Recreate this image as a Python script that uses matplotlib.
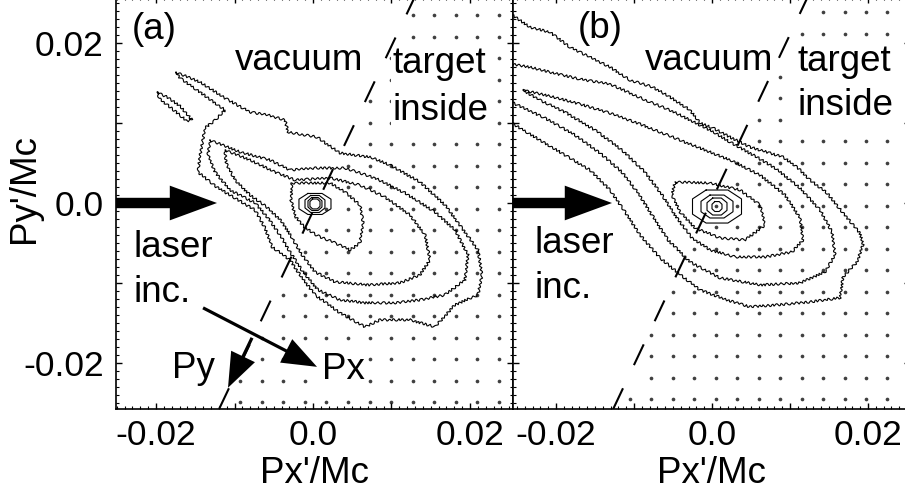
import numpy as np
import matplotlib.pyplot as plt
from matplotlib.ticker import MultipleLocator, FuncFormatter

plt.rcParams['font.family'] = ['Liberation Sans', 'DejaVu Sans']

# ---- contour lines, units of 1e-3 Mc, (Px', Py') ----
# panel (a)
a_outer = [(-17.45, 16.32), (-14.39, 15.08), (-11.21, 13.08), (-8.03, 11.34), (-5.73, 10.97),
           (-3.57, 10.34), (-3.18, 8.85), (0.51, 8.22), (3.44, 6.23), (7.26, 5.73), (9.81, 4.74),
           (13.63, 2.62), (16.82, -0.25), (18.98, -3.12), (21.02, -5.86), (21.53, -8.97),
           (21.02, -11.46), (18.09, -12.71), (15.54, -15.45), (12.36, -14.58), (8.54, -14.58),
           (6.62, -15.45), (3.44, -13.71), (0.25, -11.46), (-1.66, -8.97), (-2.93, -7.10),
           (-5.22, -5.48), (-6.11, -3.12), (-7.39, -0.87), (-10.19, 0.75), (-12.48, 2.12),
           (-14.65, 3.86), (-14.39, 5.98), (-13.76, 9.35), (-12.48, 10.34), (-11.21, 11.59),
           (-14.39, 13.83), (-16.94, 15.58)]
a_island = [(-19.87, 13.83), (-18.6, 13.21), (-16.94, 12.09), (-15.41, 10.34), (-16.05, 10.22),
            (-17.58, 11.46), (-19.49, 12.96)]
a_level2 = [(-13.12, 7.85), (-9.30, 6.36), (-5.48, 5.36), (-2.93, 4.11), (0.25, 4.36), (4.08, 4.36),
            (7.90, 3.12), (11.72, 1.25), (15.54, -1.12), (18.09, -3.36), (19.75, -6.48),
            (19.36, -9.60), (16.82, -11.46), (13.63, -12.09), (10.45, -12.46), (6.62, -12.46),
            (3.44, -12.09), (0.64, -10.84), (-1.27, -8.60), (-2.93, -6.11), (-4.20, -3.99),
            (-5.73, -1.87), (-7.39, 0.00), (-10.57, 1.62), (-12.48, 3.86), (-13.38, 5.98)]
a_level3 = [(-11.21, 6.60), (-8.03, 5.36), (-4.84, 3.86), (-2.29, 2.87), (2.17, 3.12), (5.99, 2.24),
            (9.17, 0.75), (12.36, -1.50), (14.27, -3.99), (14.90, -7.10), (13.63, -8.97),
            (11.08, -9.97), (6.88, -10.22), (2.80, -9.84), (0.25, -8.60), (-1.40, -6.48),
            (-2.68, -4.36), (-3.95, -2.37), (-5.73, -0.62), (-8.03, 1.00), (-9.94, 2.87),
            (-11.08, 4.98)]
a_level4 = [(-2.68, 2.49), (2.17, 2.49), (4.08, 1.37), (5.99, -0.25), (6.37, -2.37), (5.99, -4.98),
            (4.71, -5.86), (2.80, -4.98), (0.64, -4.11), (-1.02, -3.12), (-2.29, -1.62),
            (-2.80, 0.37)]
a_ring1 = [(-0.65, 1.19), (1.15, 1.19), (2.29, 0.48), (2.29, -0.72), (1.15, -1.43), (-0.65, -1.43),
           (-1.79, -0.72), (-1.79, 0.48)]
a_ring2 = [(-0.30, 0.94), (0.80, 0.94), (1.52, 0.38), (1.52, -0.62), (0.80, -1.18), (-0.30, -1.18),
           (-1.02, -0.62), (-1.02, 0.38)]
a_ring3 = [(-0.15, 0.69), (0.65, 0.69), (1.14, 0.26), (1.14, -0.50), (0.65, -0.93), (-0.15, -0.93),
           (-0.64, -0.50), (-0.64, 0.26)]
a_ring4 = [(-0.05, 0.50), (0.55, 0.50), (0.89, 0.18), (0.89, -0.42), (0.55, -0.74), (-0.05, -0.74),
           (-0.39, -0.42), (-0.39, 0.18)]

# panel (b): the two outer levels leave the frame on the left
b_outer = [(-26.54, 24.05), (-23.33, 21.93), (-20.77, 21.31), (-18.21, 19.44), (-15.64, 18.19),
           (-13.08, 16.95), (-10.51, 15.33), (-7.56, 14.45), (-5.38, 13.21), (-2.82, 11.59),
           (-1.54, 9.97), (0.13, 9.35), (2.31, 8.22), (4.87, 6.98), (7.44, 6.23), (9.10, 5.73),
           (10.90, 4.49), (12.56, 2.87), (14.74, 1.25), (16.79, -1.25), (18.97, -3.74),
           (19.36, -5.23), (18.59, -7.35), (16.79, -9.22), (16.41, -11.84), (12.56, -12.34),
           (8.33, -12.71), (4.87, -12.96), (1.92, -12.09), (-1.54, -10.84), (-3.72, -9.22),
           (-6.67, -6.85), (-9.23, -3.99), (-11.15, -1.12), (-13.08, 1.62), (-15.64, 4.11),
           (-18.85, 5.98), (-22.05, 7.85), (-26.54, 10.47)]
b_level2 = [(-26.54, 17.45), (-23.33, 16.95), (-20.77, 16.32), (-16.92, 15.45), (-13.08, 14.83),
            (-10.51, 13.71), (-7.95, 12.59), (-5.38, 11.59), (-2.82, 10.34), (-0.26, 9.10),
            (2.31, 7.60), (5.51, 5.86), (8.08, 4.36), (11.28, 1.87), (13.85, -0.87), (15.38, -3.61),
            (15.77, -6.48), (14.49, -8.60), (11.28, -9.97), (6.15, -10.22), (1.03, -9.35),
            (-2.82, -7.35), (-5.64, -4.61), (-7.69, -1.50), (-9.49, 1.25), (-11.54, 3.86),
            (-14.36, 6.23), (-17.56, 8.47), (-21.41, 10.59), (-26.54, 12.96)]
b_level3 = [(-24.23, 14.08), (-20.77, 13.33), (-16.92, 12.34), (-13.08, 11.21), (-9.23, 9.84),
            (-5.38, 8.35), (-1.54, 6.85), (2.31, 5.36), (6.15, 3.49), (9.36, 1.00), (11.28, -1.87),
            (11.67, -4.61), (10.26, -6.11), (6.79, -6.73), (2.95, -6.73), (-0.26, -5.86),
            (-2.56, -4.36), (-4.49, -1.87), (-6.41, 1.00), (-8.59, 3.86), (-11.54, 6.60),
            (-15.00, 9.10), (-18.85, 11.34), (-22.05, 12.83)]
b_level4 = [(-4.74, 2.62), (-0.26, 2.49), (3.59, 1.62), (6.15, -0.25), (6.79, -2.74), (4.23, -4.61),
            (1.03, -4.36), (-2.18, -3.12), (-4.10, -1.12), (-5.13, 1.00)]
b_ring1 = [(-0.76, 1.62), (2.04, 1.62), (3.78, 0.51), (3.78, -1.39), (2.04, -2.50), (-0.76, -2.50),
           (-2.50, -1.39), (-2.50, 0.51)]
b_ring2 = [(-0.26, 0.99), (1.54, 0.99), (2.69, 0.21), (2.69, -1.09), (1.54, -1.87), (-0.26, -1.87),
           (-1.41, -1.09), (-1.41, 0.21)]
b_ring3 = [(0.09, 0.62), (1.19, 0.62), (1.92, 0.04), (1.92, -0.92), (1.19, -1.50), (0.09, -1.50),
           (-0.64, -0.92), (-0.64, 0.04)]
b_ring4 = [(0.36, 0.18), (0.92, 0.18), (1.28, -0.16), (1.28, -0.72), (0.92, -1.06), (0.36, -1.06),
           (0.00, -0.72), (0.00, -0.16)]

closed_a = [a_outer, a_island, a_level2, a_level3, a_level4]
rings_a = [a_ring1, a_ring2, a_ring3, a_ring4]
open_a = []
closed_b = [b_level3, b_level4]
rings_b = [b_ring1, b_ring2, b_ring3, b_ring4]
open_b = [b_outer, b_level2]

# target surface: Px' = slope * Py' + offset
surface_slope = 0.485
surface_offset = {'a': 0.0005, 'b': -0.0002}

# dot pattern marking the target side
dot_step = (0.00275, 0.00268)
dot_origin = {'a': (-0.0093, -0.02484), 'b': (-0.01051, -0.02446)}

xlims = {'a': (-0.0251, 0.02548), 'b': (-0.02551, 0.02538)}
ylims = (-0.0257, 0.0257)

# texts (x, y, string) in data units
labels = {
    'a': [(-0.0231, 0.0216, '(a)', 'center'), (-0.00994, 0.01657, 'vacuum', 'baseline'),
          (-0.02293, -0.00673, 'laser', 'baseline'), (-0.02293, -0.01234, 'inc.', 'baseline')],
    'b': [(-0.01718, 0.0218, '(b)', 'center'), (-0.00859, 0.01657, 'vacuum', 'baseline'),
          (-0.02269, -0.00623, 'laser', 'baseline'), (-0.02269, -0.01184, 'inc.', 'baseline')],
}
boxed_labels = {
    'a': [(0.01019, 0.0162, 'target'), (0.01019, 0.01034, 'inside'),
          (-0.01796, -0.02181, 'Py'), (0.00115, -0.02193, 'Px')],
    'b': [(0.0109, 0.01645, 'target'), (0.0109, 0.01097, 'inside')],
}
laser_tip = {'a': -0.01223, 'b': -0.01282}

FS = 26.5
TICK_FS = 25.5

fig = plt.figure(figsize=(9.05, 4.95), dpi=100)
ax_a = fig.add_axes([116 / 905, 86 / 495, 397 / 905, 412 / 495])
ax_b = fig.add_axes([513 / 905, 86 / 495, 397 / 905, 412 / 495])


def tick_fmt(v, pos):
    r = int(round(v * 100))
    return {-2: '-0.02', 0: '0.0', 2: '0.02'}.get(r, '')


def draw_panel(ax, key, closed, rings, opened):
    ax.set_xlim(xlims[key])
    ax.set_ylim(ylims)
    off = surface_offset[key]

    # dots on the target side
    ox, oy = dot_origin[key]
    gx = ox + dot_step[0] * np.arange(-12, 20)
    gy = oy + dot_step[1] * np.arange(0, 20)
    X, Y = np.meshgrid(gx, gy)
    m = (X > surface_slope * Y + off + 0.0004) & (X < xlims[key][1]) & (Y < ylims[1])
    ax.scatter(X[m], Y[m], s=7, color='0.25', linewidths=0, zorder=1)

    # rough, histogram-like contour lines
    for c in closed:
        arr = np.array(c + c[:1]) * 1e-3
        ln, = ax.plot(arr[:, 0], arr[:, 1], color='black', lw=0.8, zorder=2)
        ln.set_sketch_params(1.2, 5, 2)
    for c in opened:
        arr = np.array(c) * 1e-3
        ln, = ax.plot(arr[:, 0], arr[:, 1], color='black', lw=0.8, zorder=2)
        ln.set_sketch_params(1.2, 5, 2)
    for c in rings:
        arr = np.array(c + c[:1]) * 1e-3
        ax.plot(arr[:, 0], arr[:, 1], color='black', lw=0.8, zorder=2)

    # dashed target surface
    ys = np.array(ylims)
    ax.plot(surface_slope * ys + off, ys, color='black', lw=1.5,
            linestyle=(0, (11.0, 12.3)), zorder=4)

    # laser incidence arrow
    ax.annotate('', xy=(laser_tip[key], 0.0), xytext=(xlims[key][0], 0.0),
                arrowprops=dict(arrowstyle='simple,head_length=34,head_width=25,tail_width=7.5',
                                mutation_scale=1, fc='black', ec='black', lw=0,
                                shrinkA=0, shrinkB=0), zorder=5, annotation_clip=False)

    for x, y, s, va in labels[key]:
        ax.text(x, y, s, fontsize=FS, ha='left', va=va, zorder=5)
    for x, y, s in boxed_labels[key]:
        ax.text(x, y, s, fontsize=FS, ha='left', va='baseline', zorder=3,
                bbox=dict(fc='white', ec='none', pad=1.5))

    ax.xaxis.set_major_locator(MultipleLocator(0.01))
    ax.xaxis.set_minor_locator(MultipleLocator(0.001))
    ax.yaxis.set_major_locator(MultipleLocator(0.01))
    ax.yaxis.set_minor_locator(MultipleLocator(0.001))
    ax.xaxis.set_major_formatter(FuncFormatter(tick_fmt))
    ax.yaxis.set_major_formatter(FuncFormatter(tick_fmt))
    ax.tick_params(which='both', direction='in', top=True, right=True, labelsize=TICK_FS)
    ax.tick_params(which='major', length=4.5, width=1)
    ax.tick_params(which='minor', length=2.2, width=0.8)
    ax.tick_params(axis='x', pad=7)
    ax.tick_params(axis='y', pad=9)
    for sp in ax.spines.values():
        sp.set_linewidth(1.2)
    ax.set_xlabel("Px'/Mc", fontsize=FS, labelpad=3)


draw_panel(ax_a, 'a', closed_a, rings_a, open_a)
draw_panel(ax_b, 'b', closed_b, rings_b, open_b)
ax_b.tick_params(labelleft=False)

# p-vector arrows in panel (a)
arrow_kw = dict(arrowstyle='simple,head_length=25,head_width=19,tail_width=2.3',
                mutation_scale=1, fc='black', ec='black', lw=0, shrinkA=0, shrinkB=0)
ax_a.annotate('', xy=(0.00051, -0.02044), xytext=(-0.01401, -0.01308), arrowprops=arrow_kw, zorder=5)
ax_a.annotate('', xy=(-0.01083, -0.02305), xytext=(-0.00777, -0.01682), arrowprops=arrow_kw, zorder=5)

ax_a.set_ylabel("Py'/Mc", fontsize=FS)
ax_a.yaxis.set_label_coords(-0.186, 0.534)

fig.savefig('out.png', dpi=100)
